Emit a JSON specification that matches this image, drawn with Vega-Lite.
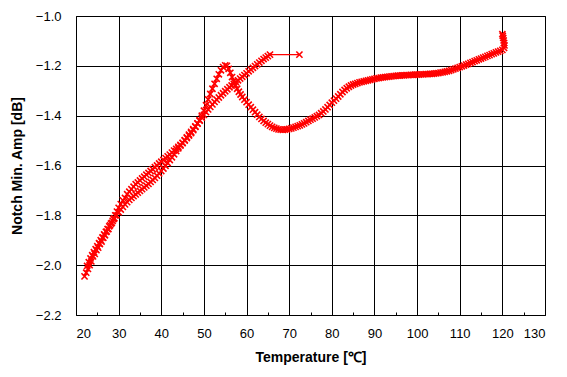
{
"$schema": "https://vega.github.io/schema/vega-lite/v6.json",
"width": 469, "height": 299,
"autosize": "none",
"padding": {"left": 76, "top": 16, "right": 22, "bottom": 62},
"background": "white",
"config": {
  "view": {"stroke": "black", "strokeWidth": 1},
  "axis": {"labelFont": "Liberation Sans", "labelFontSize": 13, "labelColor": "black", "titleFont": "Liberation Sans", "titleFontSize": 14, "titleFontWeight": "bold", "titleColor": "black", "gridColor": "black", "gridOpacity": 1, "gridWidth": 1, "domain": false, "tickSize": 0}
},
"data": {"values": [
{"b":"h","t":22.0,"a":-2.045},{"b":"h","t":22.4,"a":-2.03},{"b":"h","t":22.8,"a":-2.015},{"b":"h","t":23.2,"a":-2.0},{"b":"h","t":23.6,"a":-1.985},{"b":"h","t":24.0,"a":-1.965},{"b":"h","t":24.4,"a":-1.955},{"b":"h","t":24.8,"a":-1.94},{"b":"h","t":25.2,"a":-1.93},{"b":"h","t":25.6,"a":-1.915},{"b":"h","t":26.0,"a":-1.905},{"b":"h","t":26.4,"a":-1.89},{"b":"h","t":26.8,"a":-1.88},{"b":"h","t":27.2,"a":-1.865},{"b":"h","t":27.6,"a":-1.855},{"b":"h","t":28.0,"a":-1.84},{"b":"h","t":28.4,"a":-1.83},{"b":"h","t":28.8,"a":-1.815},{"b":"h","t":29.2,"a":-1.8},{"b":"h","t":29.6,"a":-1.785},{"b":"h","t":30.0,"a":-1.77},{"b":"h","t":30.5,"a":-1.755},{"b":"h","t":31.0,"a":-1.74},{"b":"h","t":31.5,"a":-1.73},{"b":"h","t":32.0,"a":-1.715},{"b":"h","t":32.5,"a":-1.705},{"b":"h","t":33.0,"a":-1.695},{"b":"h","t":33.5,"a":-1.685},{"b":"h","t":34.0,"a":-1.675},{"b":"h","t":34.5,"a":-1.668},{"b":"h","t":35.0,"a":-1.66},{"b":"h","t":35.5,"a":-1.652},{"b":"h","t":36.0,"a":-1.645},{"b":"h","t":36.5,"a":-1.637},{"b":"h","t":37.0,"a":-1.63},{"b":"h","t":37.5,"a":-1.622},{"b":"h","t":38.0,"a":-1.615},{"b":"h","t":38.5,"a":-1.607},{"b":"h","t":39.0,"a":-1.6},{"b":"h","t":39.5,"a":-1.592},{"b":"h","t":40.0,"a":-1.585},{"b":"h","t":40.5,"a":-1.578},{"b":"h","t":41.0,"a":-1.57},{"b":"h","t":41.5,"a":-1.563},{"b":"h","t":42.0,"a":-1.556},{"b":"h","t":42.5,"a":-1.548},{"b":"h","t":43.0,"a":-1.54},{"b":"h","t":43.5,"a":-1.533},{"b":"h","t":44.0,"a":-1.525},{"b":"h","t":44.5,"a":-1.517},{"b":"h","t":45.0,"a":-1.51},{"b":"h","t":45.5,"a":-1.5},{"b":"h","t":46.0,"a":-1.49},{"b":"h","t":46.5,"a":-1.48},{"b":"h","t":47.0,"a":-1.47},{"b":"h","t":47.5,"a":-1.458},{"b":"h","t":48.0,"a":-1.445},{"b":"h","t":48.5,"a":-1.432},{"b":"h","t":49.0,"a":-1.418},{"b":"h","t":49.5,"a":-1.4},{"b":"h","t":50.0,"a":-1.38},{"b":"h","t":50.5,"a":-1.358},{"b":"h","t":51.0,"a":-1.335},{"b":"h","t":51.5,"a":-1.313},{"b":"h","t":52.0,"a":-1.292},{"b":"h","t":52.5,"a":-1.272},{"b":"h","t":53.0,"a":-1.252},{"b":"h","t":53.5,"a":-1.234},{"b":"h","t":54.0,"a":-1.218},{"b":"h","t":54.5,"a":-1.205},{"b":"h","t":55.0,"a":-1.198},{"b":"h","t":55.4,"a":-1.2},{"b":"h","t":55.8,"a":-1.212},{"b":"h","t":56.2,"a":-1.228},{"b":"h","t":56.6,"a":-1.245},{"b":"h","t":57.0,"a":-1.262},{"b":"h","t":57.4,"a":-1.278},{"b":"h","t":57.8,"a":-1.292},{"b":"h","t":58.2,"a":-1.304},{"b":"h","t":58.6,"a":-1.315},{"b":"h","t":59.0,"a":-1.325},{"b":"h","t":59.5,"a":-1.336},{"b":"h","t":60.0,"a":-1.346},{"b":"h","t":60.5,"a":-1.356},{"b":"h","t":61.0,"a":-1.366},{"b":"h","t":61.5,"a":-1.376},{"b":"h","t":62.0,"a":-1.386},{"b":"h","t":62.5,"a":-1.396},{"b":"h","t":63.0,"a":-1.405},{"b":"h","t":63.5,"a":-1.413},{"b":"h","t":64.0,"a":-1.421},{"b":"h","t":64.5,"a":-1.428},{"b":"h","t":65.0,"a":-1.434},{"b":"h","t":65.5,"a":-1.44},{"b":"h","t":66.0,"a":-1.445},{"b":"h","t":66.5,"a":-1.449},{"b":"h","t":67.0,"a":-1.452},{"b":"h","t":67.5,"a":-1.455},{"b":"h","t":68.0,"a":-1.456},{"b":"h","t":68.5,"a":-1.457},{"b":"h","t":69.0,"a":-1.456},{"b":"h","t":69.5,"a":-1.455},{"b":"h","t":70.0,"a":-1.453},{"b":"h","t":70.5,"a":-1.451},{"b":"h","t":71.0,"a":-1.448},{"b":"h","t":71.5,"a":-1.445},{"b":"h","t":72.0,"a":-1.442},{"b":"h","t":72.5,"a":-1.439},{"b":"h","t":73.0,"a":-1.435},{"b":"h","t":73.5,"a":-1.431},{"b":"h","t":74.0,"a":-1.426},{"b":"h","t":74.5,"a":-1.421},{"b":"h","t":75.0,"a":-1.416},{"b":"h","t":75.5,"a":-1.412},{"b":"h","t":76.0,"a":-1.407},{"b":"h","t":76.5,"a":-1.402},{"b":"h","t":77.0,"a":-1.397},{"b":"h","t":77.5,"a":-1.39},{"b":"h","t":78.0,"a":-1.383},{"b":"h","t":78.5,"a":-1.375},{"b":"h","t":79.0,"a":-1.366},{"b":"h","t":79.5,"a":-1.357},{"b":"h","t":80.0,"a":-1.348},{"b":"h","t":80.5,"a":-1.34},{"b":"h","t":81.0,"a":-1.332},{"b":"h","t":81.5,"a":-1.323},{"b":"h","t":82.0,"a":-1.314},{"b":"h","t":82.5,"a":-1.305},{"b":"h","t":83.0,"a":-1.297},{"b":"h","t":83.5,"a":-1.29},{"b":"h","t":84.0,"a":-1.284},{"b":"h","t":84.5,"a":-1.279},{"b":"h","t":85.0,"a":-1.275},{"b":"h","t":85.5,"a":-1.272},{"b":"h","t":86.0,"a":-1.269},{"b":"h","t":86.5,"a":-1.266},{"b":"h","t":87.0,"a":-1.264},{"b":"h","t":87.5,"a":-1.262},{"b":"h","t":88.0,"a":-1.26},{"b":"h","t":88.5,"a":-1.258},{"b":"h","t":89.0,"a":-1.256},{"b":"h","t":89.5,"a":-1.254},{"b":"h","t":90.0,"a":-1.252},{"b":"h","t":90.5,"a":-1.25},{"b":"h","t":91.0,"a":-1.249},{"b":"h","t":91.5,"a":-1.247},{"b":"h","t":92.0,"a":-1.246},{"b":"h","t":92.5,"a":-1.245},{"b":"h","t":93.0,"a":-1.244},{"b":"h","t":93.5,"a":-1.243},{"b":"h","t":94.0,"a":-1.242},{"b":"h","t":94.5,"a":-1.241},{"b":"h","t":95.0,"a":-1.24},{"b":"h","t":95.5,"a":-1.239},{"b":"h","t":96.0,"a":-1.239},{"b":"h","t":96.5,"a":-1.238},{"b":"h","t":97.0,"a":-1.238},{"b":"h","t":97.5,"a":-1.237},{"b":"h","t":98.0,"a":-1.237},{"b":"h","t":98.5,"a":-1.236},{"b":"h","t":99.0,"a":-1.236},{"b":"h","t":99.5,"a":-1.235},{"b":"h","t":100.0,"a":-1.235},{"b":"h","t":100.5,"a":-1.235},{"b":"h","t":101.0,"a":-1.234},{"b":"h","t":101.5,"a":-1.234},{"b":"h","t":102.0,"a":-1.233},{"b":"h","t":102.5,"a":-1.233},{"b":"h","t":103.0,"a":-1.232},{"b":"h","t":103.5,"a":-1.232},{"b":"h","t":104.0,"a":-1.231},{"b":"h","t":104.5,"a":-1.23},{"b":"h","t":105.0,"a":-1.229},{"b":"h","t":105.5,"a":-1.227},{"b":"h","t":106.0,"a":-1.226},{"b":"h","t":106.5,"a":-1.224},{"b":"h","t":107.0,"a":-1.222},{"b":"h","t":107.5,"a":-1.22},{"b":"h","t":108.0,"a":-1.217},{"b":"h","t":108.5,"a":-1.214},{"b":"h","t":109.0,"a":-1.211},{"b":"h","t":109.5,"a":-1.208},{"b":"h","t":110.0,"a":-1.205},{"b":"h","t":110.5,"a":-1.202},{"b":"h","t":111.0,"a":-1.199},{"b":"h","t":111.5,"a":-1.195},{"b":"h","t":112.0,"a":-1.192},{"b":"h","t":112.5,"a":-1.188},{"b":"h","t":113.0,"a":-1.185},{"b":"h","t":113.5,"a":-1.181},{"b":"h","t":114.0,"a":-1.178},{"b":"h","t":114.5,"a":-1.174},{"b":"h","t":115.0,"a":-1.171},{"b":"h","t":115.5,"a":-1.167},{"b":"h","t":116.0,"a":-1.164},{"b":"h","t":116.5,"a":-1.16},{"b":"h","t":117.0,"a":-1.157},{"b":"h","t":117.5,"a":-1.153},{"b":"h","t":118.0,"a":-1.15},{"b":"h","t":118.5,"a":-1.146},{"b":"h","t":119.0,"a":-1.143},{"b":"h","t":119.5,"a":-1.14},{"b":"h","t":120.0,"a":-1.136},{"b":"h","t":120.4,"a":-1.128},{"b":"h","t":120.5,"a":-1.118},{"b":"h","t":120.4,"a":-1.108},{"b":"h","t":120.3,"a":-1.098},{"b":"h","t":120.2,"a":-1.088},{"b":"h","t":120.1,"a":-1.08},{"b":"h","t":120.0,"a":-1.073},
{"b":"c","t":72.4,"a":-1.155},{"b":"c","t":65.5,"a":-1.155},{"b":"c","t":65.0,"a":-1.161},{"b":"c","t":64.5,"a":-1.167},{"b":"c","t":64.0,"a":-1.173},{"b":"c","t":63.5,"a":-1.18},{"b":"c","t":63.0,"a":-1.187},{"b":"c","t":62.5,"a":-1.194},{"b":"c","t":62.0,"a":-1.201},{"b":"c","t":61.5,"a":-1.208},{"b":"c","t":61.0,"a":-1.215},{"b":"c","t":60.5,"a":-1.222},{"b":"c","t":60.0,"a":-1.23},{"b":"c","t":59.5,"a":-1.237},{"b":"c","t":59.0,"a":-1.244},{"b":"c","t":58.5,"a":-1.251},{"b":"c","t":58.0,"a":-1.258},{"b":"c","t":57.5,"a":-1.265},{"b":"c","t":57.0,"a":-1.272},{"b":"c","t":56.5,"a":-1.279},{"b":"c","t":56.0,"a":-1.286},{"b":"c","t":55.5,"a":-1.294},{"b":"c","t":55.0,"a":-1.302},{"b":"c","t":54.5,"a":-1.31},{"b":"c","t":54.0,"a":-1.318},{"b":"c","t":53.5,"a":-1.327},{"b":"c","t":53.0,"a":-1.336},{"b":"c","t":52.5,"a":-1.345},{"b":"c","t":52.0,"a":-1.355},{"b":"c","t":51.5,"a":-1.365},{"b":"c","t":51.0,"a":-1.375},{"b":"c","t":50.5,"a":-1.386},{"b":"c","t":50.0,"a":-1.397},{"b":"c","t":49.5,"a":-1.408},{"b":"c","t":49.0,"a":-1.42},{"b":"c","t":48.5,"a":-1.431},{"b":"c","t":48.0,"a":-1.443},{"b":"c","t":47.5,"a":-1.454},{"b":"c","t":47.0,"a":-1.465},{"b":"c","t":46.5,"a":-1.476},{"b":"c","t":46.0,"a":-1.487},{"b":"c","t":45.5,"a":-1.498},{"b":"c","t":45.0,"a":-1.509},{"b":"c","t":44.5,"a":-1.52},{"b":"c","t":44.0,"a":-1.531},{"b":"c","t":43.5,"a":-1.542},{"b":"c","t":43.0,"a":-1.555},{"b":"c","t":42.5,"a":-1.567},{"b":"c","t":42.0,"a":-1.578},{"b":"c","t":41.5,"a":-1.59},{"b":"c","t":41.0,"a":-1.601},{"b":"c","t":40.5,"a":-1.612},{"b":"c","t":40.0,"a":-1.622},{"b":"c","t":39.5,"a":-1.632},{"b":"c","t":39.0,"a":-1.641},{"b":"c","t":38.5,"a":-1.65},{"b":"c","t":38.0,"a":-1.658},{"b":"c","t":37.5,"a":-1.666},{"b":"c","t":37.0,"a":-1.674},{"b":"c","t":36.5,"a":-1.681},{"b":"c","t":36.0,"a":-1.688},{"b":"c","t":35.5,"a":-1.695},{"b":"c","t":35.0,"a":-1.702},{"b":"c","t":34.5,"a":-1.709},{"b":"c","t":34.0,"a":-1.716},{"b":"c","t":33.5,"a":-1.723},{"b":"c","t":33.0,"a":-1.73},{"b":"c","t":32.5,"a":-1.738},{"b":"c","t":32.0,"a":-1.747},{"b":"c","t":31.5,"a":-1.756},{"b":"c","t":31.0,"a":-1.766},{"b":"c","t":30.5,"a":-1.777},{"b":"c","t":30.0,"a":-1.788},{"b":"c","t":29.5,"a":-1.8},{"b":"c","t":29.0,"a":-1.812},{"b":"c","t":28.6,"a":-1.822},{"b":"c","t":28.2,"a":-1.833},{"b":"c","t":27.8,"a":-1.844},{"b":"c","t":27.4,"a":-1.855},{"b":"c","t":27.0,"a":-1.866},{"b":"c","t":26.6,"a":-1.877},{"b":"c","t":26.2,"a":-1.889},{"b":"c","t":25.8,"a":-1.9},{"b":"c","t":25.4,"a":-1.912},{"b":"c","t":25.0,"a":-1.924},{"b":"c","t":24.6,"a":-1.936},{"b":"c","t":24.2,"a":-1.948},{"b":"c","t":23.8,"a":-1.96},{"b":"c","t":23.4,"a":-1.973},{"b":"c","t":23.0,"a":-1.988},{"b":"c","t":22.6,"a":-2.003}
]},
"encoding": {
  "y": {"field": "a", "type": "quantitative", "scale": {"domain": [-2.2, -1.0], "nice": false, "zero": false},
        "axis": {"values": [-2.2, -2.0, -1.8, -1.6, -1.4, -1.2, -1.0], "format": ".1f", "labelPadding": 15, "title": "Notch Min. Amp [dB]", "titlePadding": 11}}
},
"layer": [
  {"mark": {"type": "line", "color": "#ff0000", "strokeWidth": 1.3},
   "encoding": {
     "x": {"field": "t", "type": "quantitative", "scale": {"domain": [20, 130], "nice": false, "zero": false},
           "axis": {"values": [20, 30, 40, 50, 60, 70, 80, 90, 100, 110, 120, 130], "labelPadding": 12, "title": "Temperature [℃]", "titlePadding": 10}},
     "detail": {"field": "b"},
     "order": {"value": null}
   }},
  {"mark": {"type": "point", "shape": "M-1,-1L1,1M-1,1L1,-1", "filled": false, "color": "#ff0000", "size": 38, "strokeWidth": 1.6, "opacity": 1},
   "encoding": {
     "x": {"field": "t", "type": "quantitative",
           "axis": {"orient": "bottom", "values": [25, 35, 45, 55, 65, 75, 85, 95, 105, 115, 125], "offset": -3, "tickSize": 3, "ticks": true, "tickColor": "black", "tickWidth": 1, "labels": false, "grid": false, "domain": false, "title": null}}
   }}
],
"resolve": {"axis": {"x": "independent"}}
}
